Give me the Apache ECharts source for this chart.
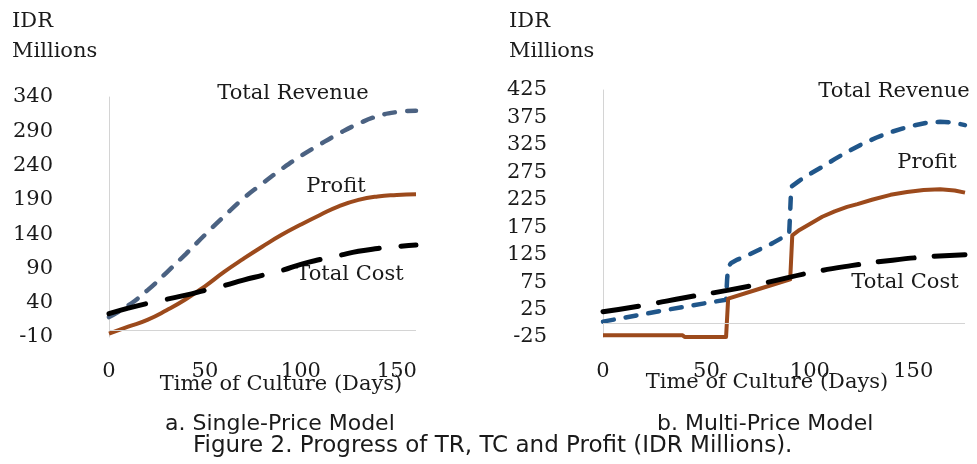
<!DOCTYPE html>
<html>
<head>
<meta charset="utf-8">
<script src="https://cdn.jsdelivr.net/npm/echarts@6/dist/echarts.min.js"></script>
<style>
  html, body { margin: 0; padding: 0; background: #fff; }
  #chart { width: 977px; height: 464px; }
</style>
</head>
<body>
<div id="chart"></div>
<script>
// a. single-price model (days 0..160 every 10)
var daysA = [0, 10, 20, 30, 40, 50, 60, 70, 80, 90, 100, 110, 120, 130, 140, 150, 160];
var revenueA = [19, 36, 58, 84, 111, 139, 166, 192, 214, 235, 254, 271, 287, 301, 312, 318, 320];
var costA = [24, 32, 39, 45, 51, 58, 65, 73, 80, 87, 96, 103, 109, 115, 119, 122, 124];
var profitA = [-5, 5, 15, 29, 45, 64, 85, 104, 122, 139, 154, 168, 181, 190, 195, 197, 198];

// b. multi-price model (price steps at day 60 and 90)
var revenueDaysB = [0, 30, 59.5, 60, 60.5, 62, 65, 70, 76, 82, 90, 90.5, 91, 95, 100, 106, 112, 118, 126, 132, 138, 145, 150, 156, 163, 169, 175];
var revenueB = [3, 24, 43, 80, 103, 110, 116, 124, 135, 146, 163, 205, 249, 260, 272, 285, 299, 312, 328, 338, 347, 355, 360, 365, 367, 366, 361];
var costDaysB = [0, 20, 40, 60, 80, 100, 120, 140, 160, 175];
var costB = [21, 33, 47, 60, 75, 92, 105, 115, 122, 125];
var profitDaysB = [0, 38.5, 39.5, 59.5, 60.5, 75, 90.5, 91.5, 95, 100, 106, 112, 118, 123, 130, 139, 147, 155, 163, 170, 175];
var profitB = [-22, -22, -25, -25, 45, 62, 80, 160, 170, 181, 194, 204, 212, 217, 225, 234, 239, 243, 244, 242, 238];

var xTicks = [0, 50, 100, 150];

function pairs(xs, ys) {
  return xs.map(function (x, i) { return [x, ys[i]]; });
}

var serif = 'DejaVu Serif';
var textColor = '#1a1a1a';
var axisGray = '#d4d4d4';

var zeroLine = {
  silent: true,
  symbol: 'none',
  label: { show: false },
  lineStyle: { color: axisGray, type: 'solid', width: 1 },
  data: [{ yAxis: 0 }]
};

function xAxisOf(idx, max) {
  return {
    gridIndex: idx, type: 'value', min: 0, max: max, interval: 50,
    axisLine: { show: false }, axisTick: { show: false }, splitLine: { show: false },
    axisLabel: {
      showMaxLabel: false, margin: 24, color: textColor,
      fontFamily: serif, fontSize: 21,
      formatter: function (v) { return xTicks.indexOf(v) >= 0 ? v : ''; }
    }
  };
}

function yAxisOf(idx, min, max) {
  return {
    gridIndex: idx, type: 'value', min: min, max: max, interval: 50,
    axisLine: { show: true, onZero: false, lineStyle: { color: axisGray, width: 1 } },
    axisTick: { show: false }, splitLine: { show: false },
    axisLabel: { margin: 56, color: textColor, fontFamily: serif, fontSize: 21 }
  };
}

function txt(x, y, s, opts) {
  var style = { text: s, x: x, y: y, fill: textColor, font: '21px "DejaVu Serif"', textAlign: 'left', textVerticalAlign: 'middle' };
  for (var k in opts) style[k] = opts[k];
  return { type: 'text', silent: true, style: style };
}

var chart = echarts.init(document.getElementById('chart'));
chart.setOption({
  animation: false,
  backgroundColor: '#fff',
  grid: [
    { left: 109, right: 561, top: 97, bottom: 127 },
    { left: 603, right: 12, top: 90, bottom: 127 }
  ],
  xAxis: [xAxisOf(0, 160), xAxisOf(1, 175)],
  yAxis: [yAxisOf(0, -10, 340), yAxisOf(1, -25, 425)],
  graphic: [
    txt(12, 22, 'IDR'),
    txt(12, 52, 'Millions'),
    txt(509, 22, 'IDR'),
    txt(509, 52, 'Millions'),
    txt(293, 94, 'Total Revenue', { textAlign: 'center' }),
    txt(336, 187, 'Profit', { textAlign: 'center' }),
    txt(350, 275, 'Total Cost', { textAlign: 'center' }),
    txt(894, 92, 'Total Revenue', { textAlign: 'center' }),
    txt(927, 163, 'Profit', { textAlign: 'center' }),
    txt(905, 283, 'Total Cost', { textAlign: 'center' }),
    txt(281, 385, 'Time of Culture (Days)', { textAlign: 'center' }),
    txt(767, 383, 'Time of Culture (Days)', { textAlign: 'center' }),
    txt(165, 424, 'a. Single-Price Model', { font: '22px "DejaVu Sans"' }),
    txt(657, 424, 'b. Multi-Price Model', { font: '22px "DejaVu Sans"' }),
    txt(193, 446, 'Figure 2. Progress of TR, TC and Profit (IDR Millions).', { font: '23px "DejaVu Sans"' })
  ],
  series: [
    {
      name: 'Total Revenue', type: 'line', xAxisIndex: 0, yAxisIndex: 0,
      data: pairs(daysA, revenueA), smooth: true, symbol: 'none', clip: false,
      lineStyle: { color: '#4b6282', width: 4.5, type: [11, 12], cap: 'round' },
      markLine: zeroLine
    },
    {
      name: 'Profit', type: 'line', xAxisIndex: 0, yAxisIndex: 0,
      data: pairs(daysA, profitA), smooth: true, symbol: 'none', clip: false,
      lineStyle: { color: '#9c4a1c', width: 4 }
    },
    {
      name: 'Total Cost', type: 'line', xAxisIndex: 0, yAxisIndex: 0,
      data: pairs(daysA, costA), smooth: true, symbol: 'none', clip: false,
      lineStyle: { color: '#000', width: 5, type: [38, 22], cap: 'round' }
    },
    {
      name: 'Total Revenue', type: 'line', xAxisIndex: 1, yAxisIndex: 1,
      data: pairs(revenueDaysB, revenueB), symbol: 'none', clip: false,
      lineStyle: { color: '#20568a', width: 4.5, type: [11, 12], cap: 'round', join: 'round' },
      markLine: zeroLine
    },
    {
      name: 'Profit', type: 'line', xAxisIndex: 1, yAxisIndex: 1,
      data: pairs(profitDaysB, profitB), symbol: 'none', clip: false,
      lineStyle: { color: '#9c4a1c', width: 4, join: 'round' }
    },
    {
      name: 'Total Cost', type: 'line', xAxisIndex: 1, yAxisIndex: 1,
      data: pairs(costDaysB, costB), smooth: true, symbol: 'none', clip: false,
      lineStyle: { color: '#000', width: 5, type: [36, 20], cap: 'round' }
    }
  ]
});
</script>
</body>
</html>
